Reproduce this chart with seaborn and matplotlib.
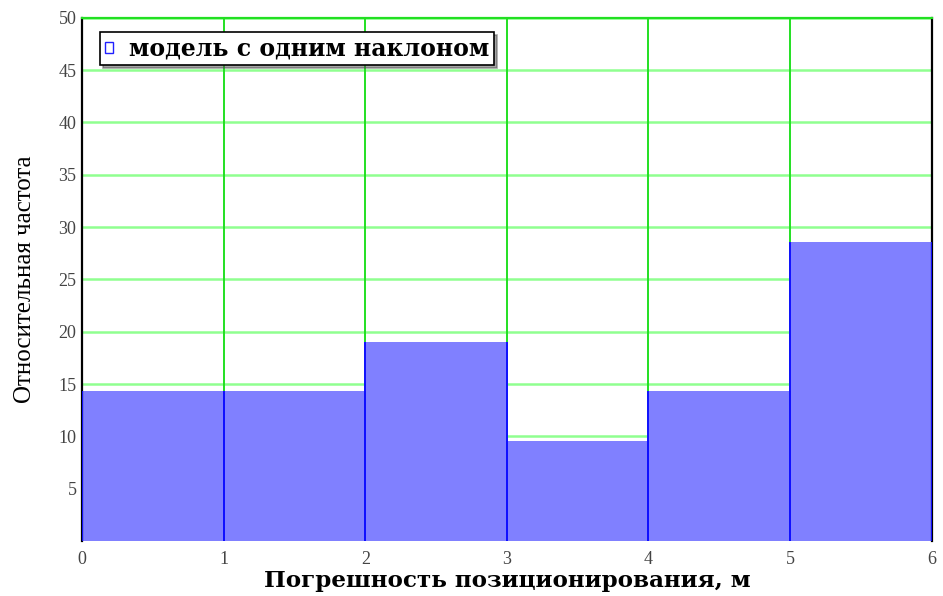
import numpy as np
import matplotlib
matplotlib.use("Agg")
import matplotlib.pyplot as plt
import seaborn as sns

# Histogram of positioning error (relative frequency, %)
bin_edges = [0, 1, 2, 3, 4, 5, 6]
bin_centers = [0.5, 1.5, 2.5, 3.5, 4.5, 5.5]
rel_freq = [14.29, 14.29, 19.05, 9.52, 14.29, 28.57]
x_ticks = [0, 1, 2, 3, 4, 5, 6]
y_ticks = [5, 10, 15, 20, 25, 30, 35, 40, 45, 50]
legend_label = "модель с одним наклоном"

sns.set_style("white")
plt.rcParams['font.family'] = ['DejaVu Sans']

fig = plt.figure(figsize=(9.43, 5.96), dpi=100)
ax = fig.add_axes([0.087, 0.0923, 0.901, 0.878])

# grid behind the bars
for yv in y_ticks:
    ax.axhline(yv, color="#90ff90", lw=1.8, zorder=0)
for xv in x_ticks[1:-1]:
    ax.axvline(xv, color="#22e022", lw=1.4, zorder=0)

sns.histplot(x=bin_centers, weights=rel_freq, bins=bin_edges, ax=ax,
             color="#8080ff", alpha=1.0, edgecolor="none", linewidth=0,
             label=legend_label, zorder=2)

# blue side edges of every bar
for patch in ax.patches:
    x0 = patch.get_x()
    x1 = x0 + patch.get_width()
    h = patch.get_height()
    ax.plot([x0, x0], [0, h], color="#1010ff", lw=1.4, zorder=3,
            solid_capstyle="butt")
    ax.plot([x1, x1], [0, h], color="#1010ff", lw=1.4, zorder=3,
            solid_capstyle="butt")

ax.set_xlim(0, 6)
ax.set_ylim(0, 50)
ax.set_xticks(x_ticks)
ax.set_yticks(y_ticks)
ax.tick_params(axis="both", length=0, labelsize=13, labelcolor="#444444")
for lab in ax.get_xticklabels() + ax.get_yticklabels():
    lab.set_family("Liberation Serif")
ax.tick_params(axis="x", pad=7)
ax.tick_params(axis="y", pad=4)

ax.spines["bottom"].set_visible(False)
ax.spines["top"].set_color("#22e022")
ax.spines["top"].set_linewidth(1.6)
for side in ["left", "right"]:
    ax.spines[side].set_color("black")
    ax.spines[side].set_linewidth(1.6)

ax.set_xlabel("Погрешность позиционирования, м", fontsize=16.6,
              family="DejaVu Serif", fontweight="bold", labelpad=2,
              color="black")
ax.set_ylabel("Относительная частота", fontsize=18,
              family="Liberation Serif", labelpad=16, color="black")

leg = ax.legend(loc="upper left", bbox_to_anchor=(0.021, 0.973),
                prop={"family": "DejaVu Serif", "weight": "bold", "size": 17},
                fancybox=False, shadow=True, framealpha=1, edgecolor="black",
                handlelength=0.35, handleheight=0.35, borderpad=0.2,
                handletextpad=0.7, borderaxespad=0, labelcolor="black")
leg.get_frame().set_linewidth(1.2)
for h in leg.legend_handles:
    h.set_facecolor("white")
    h.set_edgecolor("#2020ff")
    h.set_linewidth(1.0)

fig.savefig("out.png", dpi=100, facecolor="white")
